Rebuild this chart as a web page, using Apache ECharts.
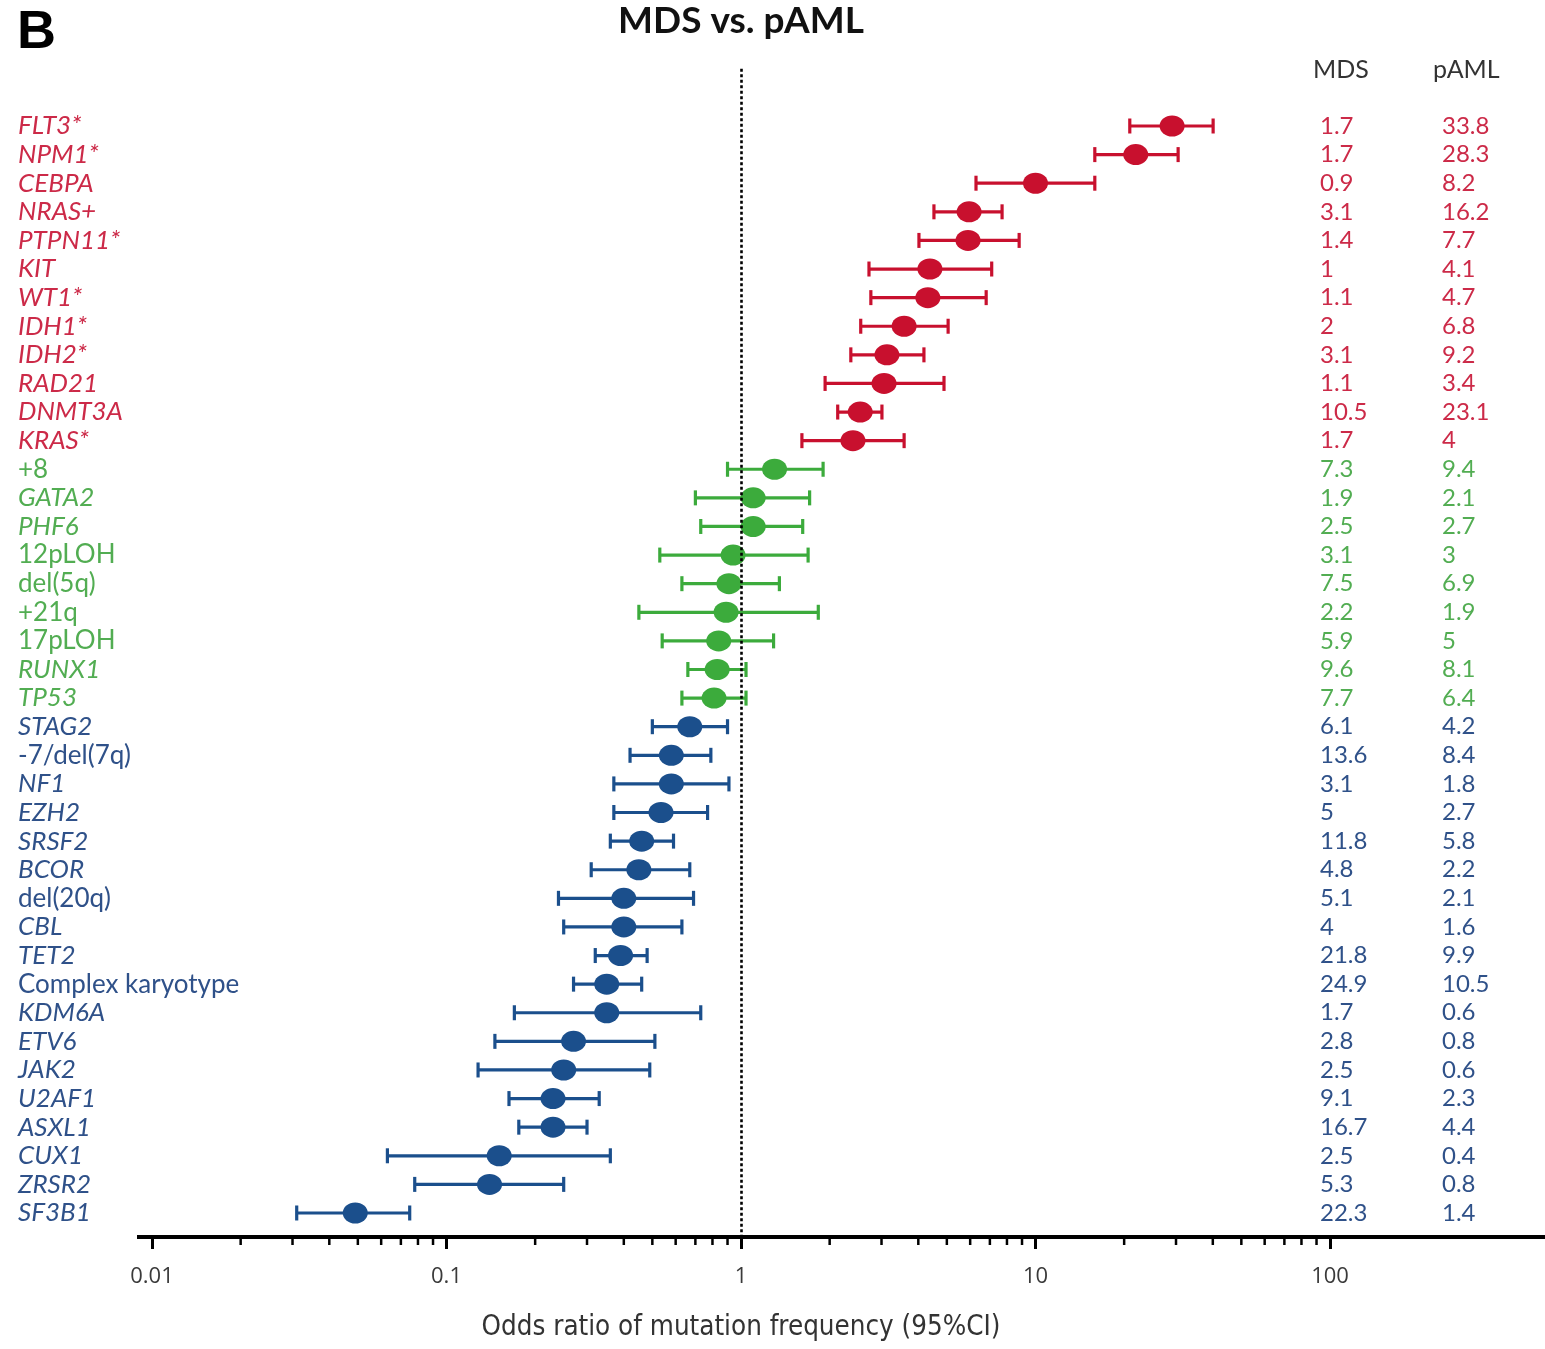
<!DOCTYPE html>
<html><head><meta charset="utf-8">
<script src="https://cdn.jsdelivr.net/npm/echarts@6/dist/echarts.min.js"></script>
<style>html,body{margin:0;padding:0;background:#fff}#c{width:1545px;height:1349px}</style>
</head><body><div id="c"></div>
<script>
// ---------- data ----------
const categories = ['FLT3*','NPM1*','CEBPA','NRAS+','PTPN11*','KIT','WT1*','IDH1*','IDH2*','RAD21','DNMT3A','KRAS*',
  '+8','GATA2','PHF6','12pLOH','del(5q)','+21q','17pLOH','RUNX1','TP53',
  'STAG2','-7/del(7q)','NF1','EZH2','SRSF2','BCOR','del(20q)','CBL','TET2','Complex karyotype','KDM6A','ETV6','JAK2','U2AF1','ASXL1','CUX1','ZRSR2','SF3B1'];
const groups = ['up','up','up','up','up','up','up','up','up','up','up','up',
  'ns','ns','ns','ns','ns','ns','ns','ns','ns',
  'down','down','down','down','down','down','down','down','down','down','down','down','down','down','down','down','down','down'];
const cytogenetic = ['+8','12pLOH','del(5q)','+21q','17pLOH','-7/del(7q)','del(20q)','Complex karyotype'];
const oddsRatio = [29.1,21.9,10.0,5.95,5.9,4.38,4.31,3.58,3.13,3.06,2.54,2.40,
  1.30,1.10,1.10,0.94,0.91,0.89,0.84,0.83,0.81,
  0.67,0.58,0.58,0.535,0.46,0.45,0.40,0.40,0.39,0.35,0.35,0.27,0.25,0.23,0.23,0.151,0.14,0.049];
const ciLow = [20.9,15.9,6.28,4.52,4.02,2.72,2.76,2.55,2.36,1.93,2.13,1.61,
  0.90,0.70,0.73,0.53,0.63,0.45,0.54,0.66,0.63,
  0.50,0.42,0.37,0.37,0.36,0.31,0.24,0.25,0.32,0.27,0.17,0.146,0.128,0.163,0.176,0.063,0.078,0.031];
const ciHigh = [40.1,30.5,15.9,7.7,8.8,7.1,6.8,5.05,4.18,4.89,3.01,3.58,
  1.90,1.71,1.62,1.69,1.35,1.83,1.29,1.04,1.04,
  0.90,0.79,0.91,0.77,0.59,0.67,0.69,0.63,0.48,0.46,0.73,0.51,0.49,0.33,0.30,0.36,0.25,0.075];
const mdsFreq = [1.7,1.7,0.9,3.1,1.4,1,1.1,2,3.1,1.1,10.5,1.7,
  7.3,1.9,2.5,3.1,7.5,2.2,5.9,9.6,7.7,
  6.1,13.6,3.1,5,11.8,4.8,5.1,4,21.8,24.9,1.7,2.8,2.5,9.1,16.7,2.5,5.3,22.3];
const pamlFreq = [33.8,28.3,8.2,16.2,7.7,4.1,4.7,6.8,9.2,3.4,23.1,4,
  9.4,2.1,2.7,3,6.9,1.9,5,8.1,6.4,
  4.2,8.4,1.8,2.7,5.8,2.2,2.1,1.6,9.9,10.5,0.6,0.8,0.6,2.3,4.4,0.4,0.8,1.4];
const minorTicks = [0.02,0.03,0.04,0.05,0.06,0.07,0.08,0.09,0.2,0.3,0.4,0.5,0.6,0.7,0.8,0.9,
  2,3,4,5,6,7,8,9,20,30,40,50,60,70,80,90];
const referenceOR = 1;
const columnHeaders = ['MDS','pAML'];
const chartTitle = 'MDS vs. pAML';
const panelLetter = 'B';
const xAxisTitle = 'Odds ratio of mutation frequency (95%CI)';

// ---------- styles ----------
const markColor = {up:'#c8102e', ns:'#3cab3c', down:'#1b4f8c'};
const textColor = {up:'#cc2a48', ns:'#52ad52', down:'#2f5189'};
const labelFont = 'Lato, "Open Sans", sans-serif';
const FS = 26;
const VFS = 24;

const rowTop = 126, rowStep = 28.605;
const yMin = -2, yMax = 38.84;
const gridTop = rowTop + yMin * rowStep;
const gridHeight = (yMax - yMin) * rowStep;
const decade = 294.5;
const gridLeft = 741 - 2 * decade;           // 0.01
const gridWidth = 5 * decade;                  // 0.01 .. 1000
const gridRight = gridLeft + gridWidth;

const leftRich = {};
['up','ns','down'].forEach(g => {
  leftRich[g + '_i'] = {color: textColor[g], fontStyle: 'italic', fontFamily: labelFont, fontSize: FS};
  leftRich[g + '_n'] = {color: textColor[g], fontStyle: 'normal', fontFamily: labelFont, fontSize: FS};
});
const rightRich = {};
['up','ns','down'].forEach(g => {
  rightRich[g] = {color: textColor[g], fontFamily: labelFont, fontSize: VFS};
});

function rowIndex(v) {
  return (Number.isInteger(v) && v >= 0 && v < categories.length) ? v : -1;
}

function valueAxis(extra) {
  return Object.assign({
    type: 'value', inverse: true, min: yMin, max: yMax, interval: 1,
    axisLine: {show: false}, axisTick: {show: false}, splitLine: {show: false}
  }, extra);
}

const errData = categories.map((c, i) => [ciLow[i], ciHigh[i], i]);
const ptData = categories.map((c, i) => ({value: [oddsRatio[i], i], itemStyle: {color: markColor[groups[i]], opacity: 1}}));

const option = {
  animation: false,
  backgroundColor: '#fff',
  grid: {left: gridLeft, top: gridTop, width: gridWidth, height: gridHeight, containLabel: false, outerBoundsMode: 'none'},
  xAxis: {
    type: 'log', logBase: 10, min: 0.01, max: 1000, position: 'bottom',
    axisLine: {show: true, onZero: false, lineStyle: {color: '#000', width: 4}},
    axisTick: {show: true, length: 12, lineStyle: {color: '#000', width: 3}},
    minorTick: {show: false},
    splitLine: {show: false},
    axisLabel: {
      margin: 29, fontFamily: '"Open Sans", sans-serif', fontSize: 22, color: '#3a3a3a',
      formatter: v => String(v)
    }
  },
  yAxis: [
    valueAxis({
      position: 'left',
      axisLabel: {
        align: 'left', margin: gridLeft - 18, rich: leftRich,
        formatter: v => {
          const i = rowIndex(v);
          if (i < 0) return '';
          const name = categories[i];
          const st = cytogenetic.includes(name) ? '_n' : '_i';
          return '{' + groups[i] + st + '|' + name + '}';
        }
      }
    }),
    valueAxis({
      position: 'right', offset: 1320 - gridRight,
      axisLabel: {
        align: 'left', margin: 0, rich: rightRich,
        formatter: v => { const i = rowIndex(v); return i < 0 ? '' : '{' + groups[i] + '|' + mdsFreq[i] + '}'; }
      }
    }),
    valueAxis({
      position: 'right', offset: 1442 - gridRight,
      axisLabel: {
        align: 'left', margin: 0, rich: rightRich,
        formatter: v => { const i = rowIndex(v); return i < 0 ? '' : '{' + groups[i] + '|' + pamlFreq[i] + '}'; }
      }
    })
  ],
  series: [
    {
      type: 'custom', name: 'CI', xAxisIndex: 0, yAxisIndex: 0, z: 2,
      data: errData,
      encode: {x: [0, 1], y: 2},
      renderItem: (params, api) => {
        const i = api.value(2);
        const a = api.coord([api.value(0), i]);
        const b = api.coord([api.value(1), i]);
        const col = markColor[groups[i]];
        const st = {stroke: col, lineWidth: 3.2};
        const h = 7.5;
        return {type: 'group', children: [
          {type: 'line', shape: {x1: a[0], y1: a[1], x2: b[0], y2: b[1]}, style: st},
          {type: 'line', shape: {x1: a[0], y1: a[1] - h, x2: a[0], y2: a[1] + h}, style: st},
          {type: 'line', shape: {x1: b[0], y1: b[1] - h, x2: b[0], y2: b[1] + h}, style: st}
        ]};
      }
    },
    {
      type: 'scatter', name: 'OR', xAxisIndex: 0, yAxisIndex: 0, z: 3,
      symbol: 'circle', symbolSize: [25, 21],
      itemStyle: {opacity: 1},
      data: ptData
    },
    {
      type: 'custom', name: 'minorTicks', xAxisIndex: 0, yAxisIndex: 0, z: 4, clip: false, silent: true,
      data: minorTicks.map(v => [v]),
      encode: {x: 0},
      renderItem: (params, api) => {
        const p = api.coord([api.value(0), yMax]);
        return {type: 'line', shape: {x1: p[0], y1: p[1], x2: p[0], y2: p[1] + 8}, style: {stroke: '#000', lineWidth: 2.5}};
      }
    },
    {
      type: 'scatter', name: 'ref', xAxisIndex: 0, yAxisIndex: 0, z: 5, data: [],
      markLine: {
        silent: true, symbol: 'none', animation: false,
        label: {show: false},
        lineStyle: {color: '#000', width: 2.6, type: [3, 2.5]},
        data: [{xAxis: referenceOR}]
      }
    }
  ],
  graphic: [
    {type: 'line', shape: {x1: 137, y1: gridTop + gridHeight, x2: gridLeft + 2, y2: gridTop + gridHeight}, style: {stroke: '#000', lineWidth: 4}},
    {type: 'text', left: 17, top: 6, style: {text: panelLetter, font: 'bold 54px "Liberation Sans", Arial, sans-serif', fill: '#000'}},
    {type: 'text', x: 741, y: 21, style: {text: chartTitle, font: 'bold 37px Lato, "Open Sans", sans-serif', fill: '#111', textAlign: 'center', textVerticalAlign: 'middle'}},
    {type: 'text', x: 1313, y: 70, style: {text: columnHeaders[0], font: '25px ' + labelFont, fill: '#333', textVerticalAlign: 'middle'}},
    {type: 'text', x: 1433, y: 70, style: {text: columnHeaders[1], font: '25px ' + labelFont, fill: '#333', textVerticalAlign: 'middle'}},
    {type: 'text', x: 741, y: 1328, style: {text: xAxisTitle, font: '27.5px "Liberation Sans Narrow", "DejaVu Sans Condensed", sans-serif', fill: '#333', textAlign: 'center', textVerticalAlign: 'middle'}}
  ]
};

const chart = echarts.init(document.getElementById('c'), null, {renderer: 'canvas'});
chart.setOption(option);
</script>
</body></html>
